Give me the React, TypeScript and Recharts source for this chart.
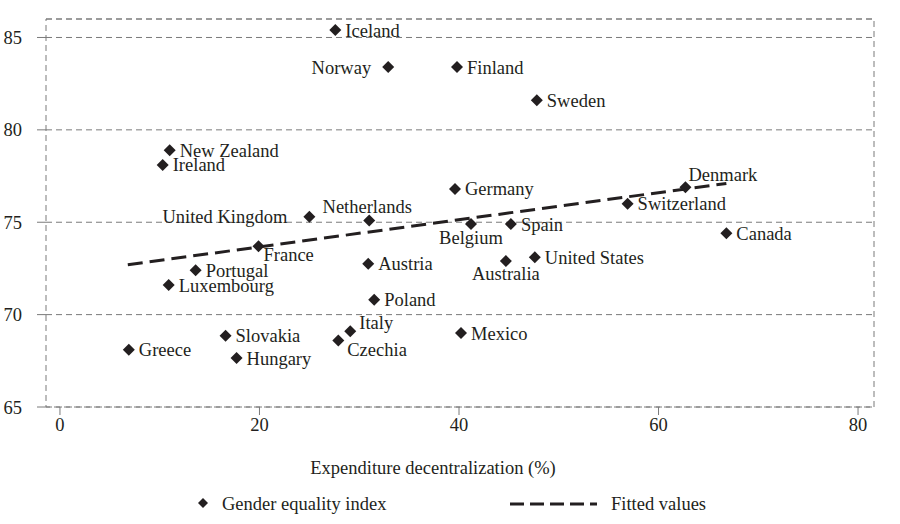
import React from 'react'
import {
  ScatterChart,
  Scatter,
  XAxis,
  YAxis,
  CartesianGrid,
  ReferenceArea,
} from 'recharts'

const countries = [
  'Iceland', 'Norway', 'Finland', 'Sweden', 'New Zealand', 'Ireland',
  'United Kingdom', 'Netherlands', 'France', 'Germany', 'Denmark', 'Switzerland',
  'Belgium', 'Spain', 'Canada', 'Australia', 'United States', 'Mexico',
  'Portugal', 'Luxembourg', 'Austria', 'Poland', 'Italy', 'Czechia',
  'Slovakia', 'Hungary', 'Greece',
]
// expenditure decentralization (%)
const decentralization = [
  27.6, 32.9, 39.8, 47.8, 11.0, 10.3,
  25.0, 31.0, 19.9, 39.6, 62.7, 56.9,
  41.2, 45.2, 66.8, 44.7, 47.6, 40.2,
  13.6, 10.9, 30.9, 31.5, 29.1, 27.9,
  16.6, 17.7, 6.9,
]
// gender equality index
const genderIndex = [
  85.4, 83.4, 83.4, 81.6, 78.9, 78.1,
  75.3, 75.1, 73.7, 76.8, 76.9, 76.0,
  74.9, 74.9, 74.4, 72.9, 73.1, 69.0,
  72.4, 71.6, 72.75, 70.8, 69.1, 68.6,
  68.85, 67.65, 68.1,
]
const fittedX = [6.8, 66.8]
const fittedY = [72.7, 77.1]
const xTicks = [0, 20, 40, 60, 80]
const yTicks = [65, 70, 75, 80, 85]

const points = countries.map((name, i) => ({
  name,
  x: decentralization[i],
  y: genderIndex[i],
}))
const fitted = fittedX.map((x, i) => ({ x, y: fittedY[i] }))

// where each label sits relative to its marker (default: right of it)
const labelPlace: Record<string, { dx: number; dy: number; anchor: 'start' | 'middle' | 'end' }> = {
  Norway: { dx: -17, dy: 0, anchor: 'end' },
  'United Kingdom': { dx: -22, dy: 0, anchor: 'end' },
  Netherlands: { dx: -2, dy: -14, anchor: 'middle' },
  France: { dx: 5, dy: 8, anchor: 'start' },
  Denmark: { dx: 3, dy: -13, anchor: 'start' },
  Belgium: { dx: 0, dy: 13, anchor: 'middle' },
  Australia: { dx: 0, dy: 12, anchor: 'middle' },
  Italy: { dx: 9, dy: -9, anchor: 'start' },
  Czechia: { dx: 9, dy: 9, anchor: 'start' },
}

const INK = '#231f20'
const GRID = '#7a7a7a'
const FONT = '"Liberation Serif", "Times New Roman", serif'
const FS = 18.5

function Diamond({ cx, cy, r = 6 }: { cx: number; cy: number; r?: number }) {
  return <polygon points={`${cx},${cy - r} ${cx + r},${cy} ${cx},${cy + r} ${cx - r},${cy}`} fill={INK} />
}

function CountryPoint(props: any) {
  const { cx, cy, payload } = props
  const p = labelPlace[payload.name] ?? { dx: 10, dy: 0, anchor: 'start' }
  return (
    <g>
      <Diamond cx={cx} cy={cy} />
      <text
        x={cx + p.dx}
        y={cy + p.dy}
        dy="0.35em"
        textAnchor={p.anchor}
        fontSize={FS}
        fontFamily={FONT}
        fill={INK}
      >
        {payload.name}
      </text>
    </g>
  )
}

export default function App() {
  return (
    <div style={{ position: 'relative', width: 900, height: 524, background: '#fff' }}>
      <style>{'body{margin:0}'}</style>
      <ScatterChart
        width={900}
        height={524}
        margin={{ top: 19, right: 26, left: 0, bottom: 0 }}
      >
        <CartesianGrid vertical={false} stroke={GRID} strokeDasharray="6 4" />
        <ReferenceArea
          x1={-1.4}
          x2={81.6}
          y1={65}
          y2={86}
          fill="none"
          stroke={GRID}
          strokeDasharray="6 4"
          ifOverflow="visible"
        />
        <XAxis
          type="number"
          dataKey="x"
          domain={[-1.4, 81.6]}
          ticks={xTicks}
          allowDataOverflow
          height={117}
          axisLine={false}
          tickSize={8}
          tickMargin={3}
          tickLine={{ stroke: GRID }}
          tick={{ fontSize: FS, fontFamily: FONT, fill: INK }}
          label={() => (
            <text x={433} y={468} dy="0.35em" textAnchor="middle" fontSize={FS} fontFamily={FONT} fill={INK}>
              Expenditure decentralization (%)
            </text>
          )}
        />
        <YAxis
          type="number"
          dataKey="y"
          domain={[65, 86]}
          ticks={yTicks}
          allowDataOverflow
          width={46}
          axisLine={false}
          tickSize={9}
          tickMargin={15}
          tickLine={{ stroke: GRID }}
          tick={{ fontSize: FS, fontFamily: FONT, fill: INK }}
        />
        <Scatter
          data={fitted}
          isAnimationActive={false}
          line={{ stroke: INK, strokeWidth: 3, strokeDasharray: '15 7' }}
          shape={() => <g />}
        />
        <Scatter data={points} isAnimationActive={false} shape={CountryPoint} />
      </ScatterChart>
      <svg
        width={900}
        height={40}
        style={{ position: 'absolute', left: 0, top: 484 }}
      >
        <Diamond cx={203} cy={19} r={5} />
        <text x={222} y={20} dy="0.35em" fontSize={FS} fontFamily={FONT} fill={INK}>
          Gender equality index
        </text>
        <line x1={510} y1={20} x2={597} y2={20} stroke={INK} strokeWidth={3} strokeDasharray="14 6" />
        <text x={611} y={20} dy="0.35em" fontSize={FS} fontFamily={FONT} fill={INK}>
          Fitted values
        </text>
      </svg>
    </div>
  )
}
